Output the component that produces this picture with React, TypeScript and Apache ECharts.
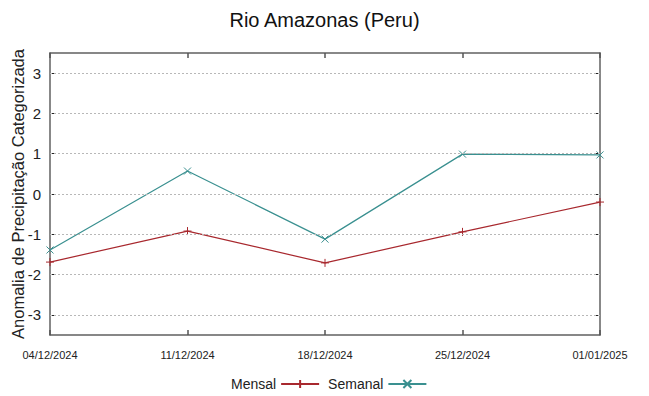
import React, { useEffect, useRef } from "react";
import * as echarts from "echarts";

const categories = ["04/12/2024", "11/12/2024", "18/12/2024", "25/12/2024", "01/01/2025"];
const mensal = [-1.69, -0.92, -1.71, -0.94, -0.2];
const semanal = [-1.39, 0.57, -1.12, 0.99, 0.97];
const yTicks = [-3, -2, -1, 0, 1, 2, 3];

const RED = "#a8282e";
const TEAL = "#3a9090";
const FRAME = "#606060";
const FONT = "'Liberation Sans', Arial, sans-serif";

const plusPath = "path://M0,5L10,5M5,0L5,10";
const xPath = "path://M0,0L10,10M10,0L0,10";

export default function App() {
  const ref = useRef<HTMLDivElement>(null);
  useEffect(() => {
    if (!ref.current) return;
    const chart = echarts.init(ref.current, undefined, { renderer: "svg" });
    chart.setOption({
      animation: false,
      backgroundColor: "#ffffff",
      textStyle: { fontFamily: FONT },
      title: {
        text: "Rio Amazonas (Peru)",
        left: "center",
        top: 5,
        textStyle: { fontFamily: FONT, fontSize: 20, fontWeight: "normal", color: "#111" },
      },
      grid: { left: 50, right: 49, top: 53, bottom: 61, outerBoundsMode: "none", containLabel: false },
      legend: {
        data: ["Mensal", "Semanal"],
        left: 226,
        top: 372,
        align: "right",
        itemWidth: 38,
        itemHeight: 10,
        itemGap: 8,
        textStyle: { fontFamily: FONT, fontSize: 14, color: "#222" },
      },
      xAxis: [
        {
          type: "category",
          data: categories,
          boundaryGap: false,
          axisLine: { show: true, onZero: false, lineStyle: { color: FRAME, width: 1.5 } },
          axisTick: { show: true, inside: true, length: 5, lineStyle: { color: "#555", width: 1.5 } },
          axisLabel: {
            fontFamily: FONT,
            fontSize: 11,
            color: "#222",
            margin: 14,
          },
          splitLine: { show: false },
        },
        {
          type: "category",
          data: categories,
          boundaryGap: false,
          position: "top",
          axisLine: { show: true, onZero: false, lineStyle: { color: FRAME, width: 1.5 } },
          axisTick: { show: true, inside: true, length: 5, lineStyle: { color: "#555", width: 1.5 } },
          axisLabel: { show: false },
          splitLine: { show: false },
        },
      ],
      yAxis: [
        {
          type: "value",
          min: -3.5,
          max: 3.5,
          name: "Anomalia de Precipitação Categorizada",
          nameLocation: "middle",
          nameGap: 24,
          nameMoveOverlap: false,
          nameTextStyle: { fontFamily: FONT, fontSize: 16.5, color: "#222" },
          axisLine: { show: true, onZero: false, lineStyle: { color: FRAME, width: 1.5 } },
          axisTick: { show: true, inside: true, length: 5, customValues: yTicks, lineStyle: { color: "#222" } },
          axisLabel: {
            fontFamily: FONT,
            fontSize: 15,
            color: "#222",
            margin: 9,
            customValues: yTicks,
          },
          splitLine: { show: false },
        },
        {
          type: "value",
          min: -3.5,
          max: 3.5,
          position: "right",
          axisLine: { show: true, onZero: false, lineStyle: { color: FRAME, width: 1.5 } },
          axisTick: { show: true, inside: true, length: 5, customValues: yTicks, lineStyle: { color: "#222" } },
          axisLabel: { show: false, customValues: yTicks },
          splitLine: { show: false },
        },
      ],
      series: [
        {
          name: "grid",
          type: "line",
          data: [],
          markLine: {
            silent: true,
            symbol: "none",
            label: { show: false },
            lineStyle: { color: "#b8b8b8", type: [2, 2], width: 1 },
            data: yTicks.map((v) => ({ yAxis: v })),
          },
        },
        {
          name: "Mensal",
          type: "line",
          data: mensal,
          color: RED,
          lineStyle: { color: RED, width: 1.2 },
          symbol: plusPath,
          symbolSize: 8,
          itemStyle: { color: RED, borderColor: RED, borderWidth: 1 },
        },
        {
          name: "Semanal",
          type: "line",
          data: semanal,
          color: TEAL,
          lineStyle: { color: TEAL, width: 1.2 },
          symbol: xPath,
          symbolSize: 7,
          itemStyle: { color: TEAL, borderColor: TEAL, borderWidth: 1 },
        },
      ],
    });
    return () => chart.dispose();
  }, []);
  return <div ref={ref} style={{ width: 649, height: 396, position: "absolute", left: 0, top: 0 }} />;
}
